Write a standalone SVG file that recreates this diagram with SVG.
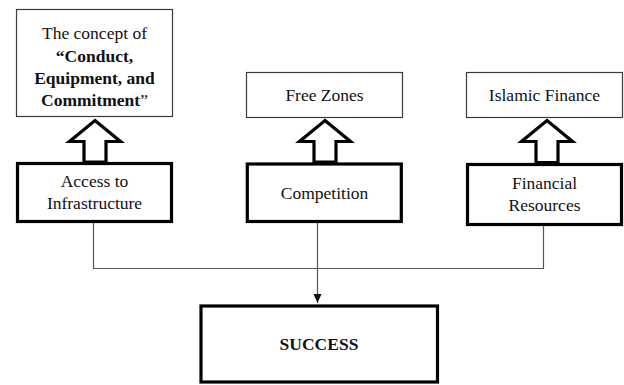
<svg xmlns="http://www.w3.org/2000/svg" width="624" height="385" viewBox="0 0 624 385">
<defs>
<style>
text{font-family:'Liberation Serif','Times New Roman',serif;font-size:17.5px;fill:#111;text-anchor:middle}
.b{font-weight:bold}
.thin{fill:#fff;stroke:#3a3a3a;stroke-width:1.2}
.thick{fill:#fff;stroke:#000;stroke-width:3.2}
.ha{fill:#fff;stroke:#000;stroke-width:3.2;stroke-linejoin:miter}
.c{fill:none;stroke:#555;stroke-width:1.2}
</style>
<marker id="ah" markerWidth="9" markerHeight="9" refX="9" refY="4.5" orient="auto" markerUnits="userSpaceOnUse">
<path d="M0,0.5 L9,4.5 L0,8.5 Z" fill="#111"/>
</marker>
</defs>
<rect width="624" height="385" fill="#fff"/>

<g id="connectors">
<path class="c" d="M93.5,223 V268.5 H543.5 V226"/>
<path class="c" d="M317.5,223 V303" marker-end="url(#ah)"/>
</g>

<g id="concept">
<rect class="thin" x="16.5" y="9.5" width="156" height="107"/>
<text font-family="Liberation Serif, serif" x="94.5" y="39">The concept of</text>
<text font-family="Liberation Serif, serif" class="b" x="94.5" y="62">“Conduct,</text>
<text font-family="Liberation Serif, serif" class="b" x="94.5" y="84">Equipment, and</text>
<text font-family="Liberation Serif, serif" x="94.5" y="106"><tspan class="b">Commitment</tspan>”</text>
</g>

<g id="freezones">
<rect class="thin" x="246.5" y="72.5" width="156" height="45"/>
<text font-family="Liberation Serif, serif" x="324.5" y="101">Free Zones</text>
</g>

<g id="islamic">
<rect class="thin" x="466.5" y="72.5" width="156" height="45"/>
<text font-family="Liberation Serif, serif" x="544.5" y="101">Islamic Finance</text>
</g>

<g id="arrow1">
<path class="ha" d="M95,120.5 L120.5,141.5 L106,141.5 L106,162 L84,162 L84,141.5 L69.5,141.5 Z"/>
</g>
<g id="arrow2">
<path class="ha" d="M325,120.5 L350.5,141.5 L336,141.5 L336,162 L314,162 L314,141.5 L299.5,141.5 Z"/>
</g>
<g id="arrow3">
<path class="ha" d="M547,120.5 L572.5,141.5 L558,141.5 L558,162.5 L536,162.5 L536,141.5 L521.5,141.5 Z"/>
</g>

<g id="access">
<rect class="thick" x="17.5" y="163.5" width="154" height="58"/>
<text font-family="Liberation Serif, serif" x="94.5" y="187">Access to</text>
<text font-family="Liberation Serif, serif" x="94.5" y="209">Infrastructure</text>
</g>

<g id="competition">
<rect class="thick" x="247.3" y="164" width="154" height="57.5"/>
<text font-family="Liberation Serif, serif" x="324.5" y="198.5">Competition</text>
</g>

<g id="financial">
<rect class="thick" x="467.5" y="164.5" width="154" height="60"/>
<text font-family="Liberation Serif, serif" x="544.5" y="189">Financial</text>
<text font-family="Liberation Serif, serif" x="544.5" y="211">Resources</text>
</g>

<g id="success">
<rect class="thick" x="201" y="306" width="236.5" height="76"/>
<text font-family="Liberation Serif, serif" class="b" x="319" y="350">SUCCESS</text>
</g>
</svg>
